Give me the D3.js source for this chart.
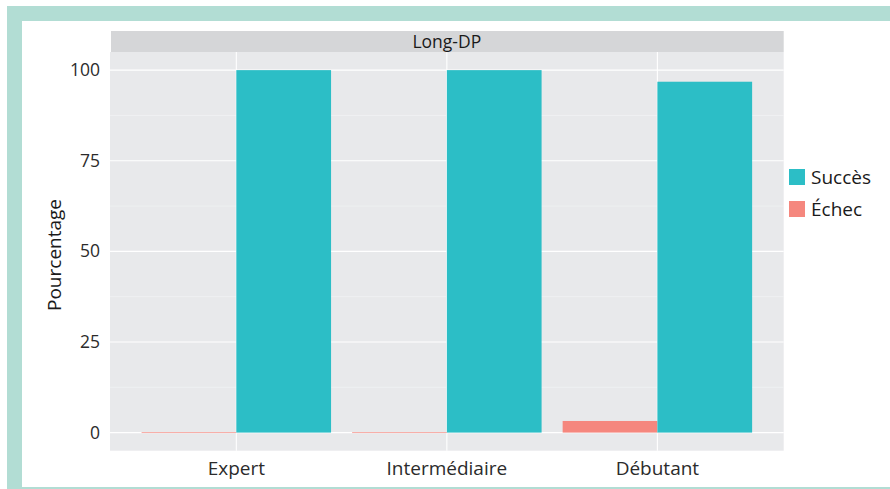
<!DOCTYPE html>
<html><head><meta charset="utf-8">
<script src="https://cdn.jsdelivr.net/npm/d3@7"></script>
<style>body{margin:0;background:#fff}svg{display:block}text{font-family:"Open Sans","Noto Sans",sans-serif}</style>
</head><body><svg id="c" width="890" height="489"></svg>
<script>
const categories = ["Expert", "Intermédiaire", "Débutant"];
const seriesNames = ["Échec", "Succès"];
const echec = [0, 0, 3.2];
const succes = [100, 100, 96.8];
const yTicks = [0, 25, 50, 75, 100];
const yMinor = [12.5, 37.5, 62.5, 87.5];
const facetLabel = "Long-DP";
const colors = {"Succès": "#2CBEC6", "Échec": "#F5877E"};

const svg = d3.select("#c");
// frame
svg.append("rect").attr("x",7).attr("y",6).attr("width",883).attr("height",15).attr("fill","#B2DDD4");
svg.append("rect").attr("x",7).attr("y",6).attr("width",15).attr("height",483).attr("fill","#B2DDD4");
svg.append("rect").attr("x",7).attr("y",487).attr("width",883).attr("height",2).attr("fill","#B2DDD4");

const pL = 110, pR = 783.7, pT = 52, pB = 450.7;
const y = d3.scaleLinear().domain([-5, 105]).range([pB, pT]);
const x = d3.scaleLinear().domain([0.4, 3.6]).range([pL, pR]);

// strip
svg.append("rect").attr("x",pL+1).attr("y",31).attr("width",pR-pL-1).attr("height",pT-31).attr("fill","#D5D6D8");
svg.append("text").attr("x",(pL+pR)/2).attr("y",47.5).attr("text-anchor","middle").attr("font-size",17.5).attr("fill","#1a1a1a").text(facetLabel);
// panel
svg.append("rect").attr("x",pL).attr("y",pT).attr("width",pR-pL).attr("height",pB-pT).attr("fill","#E8E9EB");

const g = svg.append("g");
yMinor.forEach(v=>g.append("line").attr("x1",pL).attr("x2",pR).attr("y1",y(v)).attr("y2",y(v)).attr("stroke","#F4F5F6").attr("stroke-width",0.6));
yTicks.forEach(v=>g.append("line").attr("x1",pL).attr("x2",pR).attr("y1",y(v)).attr("y2",y(v)).attr("stroke","#fff").attr("stroke-width",1.1));
categories.forEach((c,i)=>g.append("line").attr("x1",x(i+1)).attr("x2",x(i+1)).attr("y1",pT).attr("y2",pB).attr("stroke","#fff").attr("stroke-width",1.1));

// bars
const bw = 0.45;
const data = [];
categories.forEach((c,i)=>{
  data.push({cat:i+1, s:"Échec", v:echec[i], x0:i+1-bw, x1:i+1});
  data.push({cat:i+1, s:"Succès", v:succes[i], x0:i+1, x1:i+1+bw});
});
data.forEach(d=>{
  const h = Math.abs(y(0)-y(d.v));
  if (d.v === 0) {
    g.append("line").attr("x1",x(d.x0)).attr("x2",x(d.x1)).attr("y1",y(0)).attr("y2",y(0)).attr("stroke",colors[d.s]).attr("stroke-width",1).attr("opacity",0.7);
  } else {
    g.append("rect").attr("x",x(d.x0)).attr("y",y(d.v)).attr("width",x(d.x1)-x(d.x0)).attr("height",h).attr("fill",colors[d.s]);
  }
});

// y axis labels
yTicks.forEach(v=>svg.append("text").attr("x",100).attr("y",y(v)+6).attr("text-anchor","end").attr("font-size",17.5).attr("fill","#2b2b2b").text(v));
// x axis labels
categories.forEach((c,i)=>svg.append("text").attr("x",x(i+1)).attr("y",475).attr("text-anchor","middle").attr("font-size",19).attr("fill","#2b2b2b").text(c));
// y title
svg.append("text").attr("transform","translate(61,255) rotate(-90)").attr("text-anchor","middle").attr("font-size",19).attr("fill","#1a1a1a").text("Pourcentage");

// legend
const legend = [["Succès",0],["Échec",1]];
legend.forEach(([s,i])=>{
  svg.append("rect").attr("x",789).attr("y",169+i*32).attr("width",16).attr("height",16).attr("fill",colors[s]);
  svg.append("text").attr("x",811).attr("y",184+i*32).attr("font-size",19).attr("fill","#1a1a1a").text(s);
});
</script></body></html>
